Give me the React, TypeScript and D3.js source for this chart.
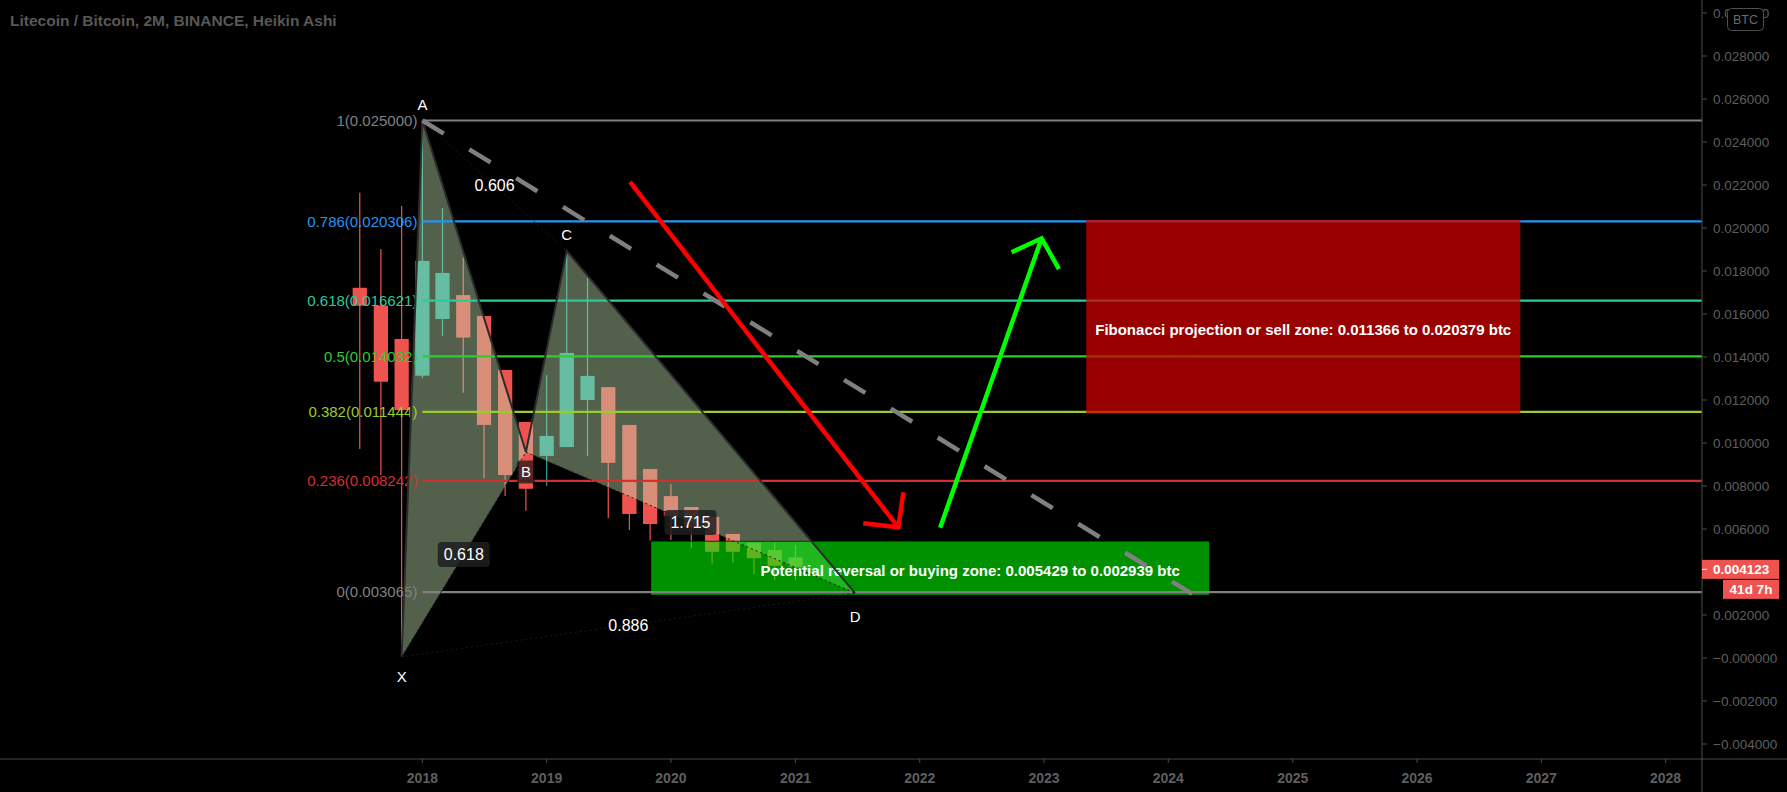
import React from 'react';
import * as d3 from 'd3';

const W = 1787;
const H = 792;

// 2M Heikin Ashi candles (open dates)
const candleDates = [
  '2017-07-01', '2017-09-01', '2017-11-01', '2018-01-01', '2018-03-01', '2018-05-01',
  '2018-07-01', '2018-09-01', '2018-11-01', '2019-01-01', '2019-03-01', '2019-05-01',
  '2019-07-01', '2019-09-01', '2019-11-01', '2020-01-01', '2020-03-01', '2020-05-01',
  '2020-07-01', '2020-09-01', '2020-11-01', '2021-01-01',
];
const candleOpen = [
  0.01722, 0.01639, 0.01484, 0.01313, 0.01577, 0.01688,
  0.01591, 0.01340, 0.01098, 0.00940, 0.00981, 0.01200,
  0.01260, 0.01084, 0.00879, 0.00753, 0.00702, 0.00656,
  0.00577, 0.00536, 0.00502, 0.00468,
];
const candleHigh = [
  0.02164, 0.01902, 0.02102, 0.02500, 0.02093, 0.01862,
  0.01591, 0.01340, 0.01098, 0.01316, 0.01893, 0.01769,
  0.01260, 0.01084, 0.00879, 0.00809, 0.00702, 0.00656,
  0.00577, 0.00536, 0.00536, 0.00526,
];
const candleLow = [
  0.00972, 0.00851, 0.00005, 0.01301, 0.01498, 0.01234,
  0.00836, 0.00753, 0.00685, 0.00801, 0.00981, 0.00940,
  0.00650, 0.00595, 0.00546, 0.00549, 0.00512, 0.00440,
  0.00445, 0.00391, 0.00363, 0.00363,
];
const candleClose = [
  0.01639, 0.01285, 0.01153, 0.01847, 0.01791, 0.01490,
  0.01084, 0.00851, 0.00787, 0.01033, 0.01419, 0.01312,
  0.00908, 0.00670, 0.00623, 0.00660, 0.00609, 0.00494,
  0.00494, 0.00464, 0.00429, 0.00425,
];

// Fibonacci retracement levels
const fibRatios = ['1', '0.786', '0.618', '0.5', '0.382', '0.236', '0'];
const fibPrices = [0.025, 0.020306, 0.016621, 0.014032, 0.011444, 0.008242, 0.003065];
const fibColors = ['#808080', '#2196f3', '#28cc9c', '#2ecc34', '#9acd2a', '#d32f2f', '#808080'];
const fibStart = '2018-01-01';

// XABCD harmonic pattern
const patternLabels = ['X', 'A', 'B', 'C', 'D'];
const patternDates = ['2017-11-01', '2018-01-01', '2018-11-01', '2019-03-01', '2021-06-25'];
const patternPrices = [0.00005, 0.025, 0.00958, 0.01893, 0.00302];
const ratioPairs = [[0, 2], [1, 3], [2, 4], [0, 4]];
const ratioValues = ['0.618', '0.606', '1.715', '0.886'];
const ratioBoxed = [true, false, true, false];

// zones
const sellZone = { from: '2023-05-05', to: '2026-10-31', low: 0.011366, high: 0.020379 };
const buyZone = { from: '2019-11-04', to: '2024-04-30', low: 0.002939, high: 0.005429 };
const sellText = 'Fibonacci projection or sell zone: 0.011366 to 0.020379 btc';
const buyText = 'Potential reversal or buying zone: 0.005429 to 0.002939 btc';

// trend line and arrows
const trendDates = ['2018-01-01', '2024-03-11'];
const trendPrices = [0.025, 0.00298];
const redArrowDates = ['2019-09-03', '2021-10-30', '2021-07-19', '2021-11-14'];
const redArrowPrices = [0.02215, 0.00608, 0.00627, 0.00771];
const greenArrowDates = ['2022-03-02', '2022-12-25', '2022-09-28', '2023-02-14'];
const greenArrowPrices = [0.00606, 0.01952, 0.01887, 0.01809];

// axes
const priceTicks = [-0.004, -0.002, 0, 0.002, 0.004, 0.006, 0.008, 0.01, 0.012, 0.014,
  0.016, 0.018, 0.02, 0.022, 0.024, 0.026, 0.028, 0.03];
const lastPrice = 0.004123;
const countdown = '41d 7h';
const title = 'Litecoin / Bitcoin, 2M, BINANCE, Heikin Ashi';

const font = "'Liberation Sans', Arial, sans-serif";
const parse = d3.timeParse('%Y-%m-%d');

const App = () => {
  const axisX = 1702;
  const axisY = 759;

  const x = d3.scaleTime()
    .domain([new Date(2018, 0, 1), new Date(2028, 0, 1)])
    .range([422.4, 1665.6]);
  const y = d3.scaleLinear().domain([-0.004, 0.03]).range([744, 13]);

  const fmt = d3.format('.6f');
  const priceLabel = (v) => (v <= 0 ? '\u2212' + fmt(Math.abs(v)) : fmt(v));

  const xd = (s) => x(parse(s));
  const bodyW = (xd('2018-03-01') - xd('2018-01-01')) * 0.71;

  const pts = patternDates.map((d, i) => [xd(d), y(patternPrices[i])]);
  const line = d3.line();

  const years = d3.timeYear.range(new Date(2018, 0, 1), new Date(2029, 0, 1));

  const arrow = (dates, prices) => {
    const p = dates.map((d, i) => [xd(d), y(prices[i])]);
    return line([p[0], p[1]]) + ' ' + line([p[2], p[1], p[3]]);
  };

  const labelOffsets = { X: 20, A: -16, B: 20, C: -16, D: 24 };

  return (
    <svg width={W} height={H} style={{ position: 'absolute', left: 0, top: 0, display: 'block' }}
      fontFamily={font}>
      <rect x={0} y={0} width={W} height={H} fill="#000" />

      {/* candles */}
      <g>
        {candleDates.map((d, i) => {
          const cx = xd(d);
          const up = candleClose[i] >= candleOpen[i];
          const col = up ? '#26a69a' : '#ef5350';
          const top = y(Math.max(candleOpen[i], candleClose[i]));
          const bot = y(Math.min(candleOpen[i], candleClose[i]));
          return (
            <g key={d}>
              <line x1={cx} x2={cx} y1={y(candleHigh[i])} y2={y(candleLow[i])} stroke={col} strokeWidth={1.2} />
              <rect x={cx - bodyW / 2} y={top} width={bodyW} height={Math.max(1, bot - top)} fill={col} />
            </g>
          );
        })}
      </g>

      {/* harmonic pattern triangles */}
      <path d={line([pts[0], pts[1], pts[2]]) + 'Z'} fill="rgb(186,218,173)" fillOpacity={0.44} />
      <path d={line([pts[2], pts[3], pts[4]]) + 'Z'} fill="rgb(186,218,173)" fillOpacity={0.44} />

      {/* buying zone */}
      <rect x={xd(buyZone.from)} y={y(buyZone.high)} width={xd(buyZone.to) - xd(buyZone.from)}
        height={y(buyZone.low) - y(buyZone.high)} fill="#00f200" fillOpacity={0.6} />
      <line x1={xd(buyZone.from)} x2={xd(buyZone.to)} y1={y(buyZone.high)} y2={y(buyZone.high)} stroke="#0a3a0a" strokeWidth={1} />

      {/* fib levels */}
      {fibPrices.map((p, i) => (
        <g key={fibRatios[i]}>
          <line x1={xd(fibStart)} x2={axisX} y1={y(p)} y2={y(p)} stroke={fibColors[i]} strokeWidth={2.2} />
          <text x={xd(fibStart) - 5} y={y(p)} dy="0.35em" textAnchor="end" fill={fibColors[i]} fontSize={15}>
            {`${fibRatios[i]}(${p.toFixed(6)})`}
          </text>
        </g>
      ))}

      {/* sell zone */}
      <rect x={xd(sellZone.from)} y={y(sellZone.high)} width={xd(sellZone.to) - xd(sellZone.from)}
        height={y(sellZone.low) - y(sellZone.high)} fill="#cc0000" fillOpacity={0.75} />
      <text x={(xd(sellZone.from) + xd(sellZone.to)) / 2} y={(y(sellZone.high) + y(sellZone.low)) / 2 + 13}
        dy="0.35em" textAnchor="middle" fill="#fff" fontWeight="bold" fontSize={15}>{sellText}</text>
      <text x={(xd(buyZone.from) + xd(buyZone.to)) / 2 + 40} y={(y(buyZone.high) + y(buyZone.low)) / 2 + 3}
        dy="0.35em" textAnchor="middle" fill="#fff" fontWeight="bold" fontSize={15}>{buyText}</text>

      {/* pattern legs */}
      <path d={line(pts)} fill="none" stroke="#2c2c2c" strokeWidth={2} />
      {ratioPairs.map(([a, b], i) => (
        <line key={'rl' + i} x1={pts[a][0]} y1={pts[a][1]} x2={pts[b][0]} y2={pts[b][1]}
          stroke="#1a1a1a" strokeWidth={1} strokeDasharray="2 3" />
      ))}

      {/* trend line */}
      <line x1={xd(trendDates[0])} y1={y(trendPrices[0])} x2={xd(trendDates[1])} y2={y(trendPrices[1])}
        stroke="#808080" strokeWidth={4.5} strokeDasharray="25 30" />

      {/* arrows */}
      <path d={arrow(redArrowDates, redArrowPrices)} fill="none" stroke="#ff0000" strokeWidth={4.5} strokeLinejoin="miter" />
      <path d={arrow(greenArrowDates, greenArrowPrices)} fill="none" stroke="#00ff00" strokeWidth={4.5} strokeLinejoin="miter" />

      {/* pattern point labels */}
      {pts.map((p, i) => {
        const lab = patternLabels[i];
        const ty = p[1] + labelOffsets[lab];
        return (
          <g key={lab}>
            {lab === 'B' && (
              <rect x={p[0] - 9} y={ty - 11.5} width={18} height={23} rx={3} fill="rgba(20,20,20,0.7)" />
            )}
            <text x={p[0]} y={ty} dy="0.35em" textAnchor="middle" fill="#fff" fontSize={15}>{lab}</text>
          </g>
        );
      })}
      {ratioPairs.map(([a, b], i) => {
        const mx = (pts[a][0] + pts[b][0]) / 2;
        const my = (pts[a][1] + pts[b][1]) / 2;
        return (
          <g key={'rv' + i}>
            {ratioBoxed[i] && (
              <rect x={mx - 26} y={my - 12.5} width={52} height={25} rx={4} fill="rgba(30,30,30,0.85)" />
            )}
            <text x={mx} y={my} dy="0.35em" textAnchor="middle" fill="#fff" fontSize={16}>{ratioValues[i]}</text>
          </g>
        );
      })}

      {/* axes */}
      <line x1={axisX} x2={axisX} y1={0} y2={H} stroke="#4a4a4a" strokeWidth={1} />
      <line x1={0} x2={W} y1={axisY} y2={axisY} stroke="#4a4a4a" strokeWidth={1} />
      {priceTicks.map((v) => (
        <g key={'p' + v}>
          <line x1={axisX} x2={axisX + 5} y1={y(v)} y2={y(v)} stroke="#4a4a4a" />
          <text x={axisX + 11} y={y(v)} dy="0.35em" fill="#5e5e5e" fontSize={13.5}>{priceLabel(v)}</text>
        </g>
      ))}
      {years.map((d) => (
        <g key={'y' + d.getFullYear()}>
          <line x1={x(d)} x2={x(d)} y1={axisY} y2={axisY + 4} stroke="#4a4a4a" />
          <text x={x(d)} y={axisY + 19} dy="0.35em" textAnchor="middle" fill="#5e5e5e" fontSize={14} fontWeight="bold">
            {d3.timeFormat('%Y')(d)}
          </text>
        </g>
      ))}

      {/* last price */}
      <rect x={axisX} y={y(lastPrice) - 9.5} width={77} height={19} fill="#ef5350" />
      <line x1={axisX} x2={axisX + 5} y1={y(lastPrice)} y2={y(lastPrice)} stroke="#fff" />
      <text x={axisX + 11} y={y(lastPrice)} dy="0.35em" fill="#fff" fontWeight="bold" fontSize={13.5}>{fmt(lastPrice)}</text>
      <rect x={axisX + 21} y={y(lastPrice) + 10.5} width={56} height={19} fill="#ef5350" />
      <text x={axisX + 49} y={y(lastPrice) + 20} dy="0.35em" textAnchor="middle" fill="#fff" fontWeight="bold" fontSize={13.5}>{countdown}</text>

      {/* currency badge */}
      <rect x={1727.5} y={8.5} width={36} height={22} rx={4} fill="#000" stroke="#505050" />
      <text x={1745.5} y={19.5} dy="0.35em" textAnchor="middle" fill="#6a6a6a" fontSize={12.5}>BTC</text>

      {/* title */}
      <text x={10} y={21} dy="0.35em" fill="#585858" fontWeight="bold" fontSize={15.5}>{title}</text>
    </svg>
  );
};

export default App;
